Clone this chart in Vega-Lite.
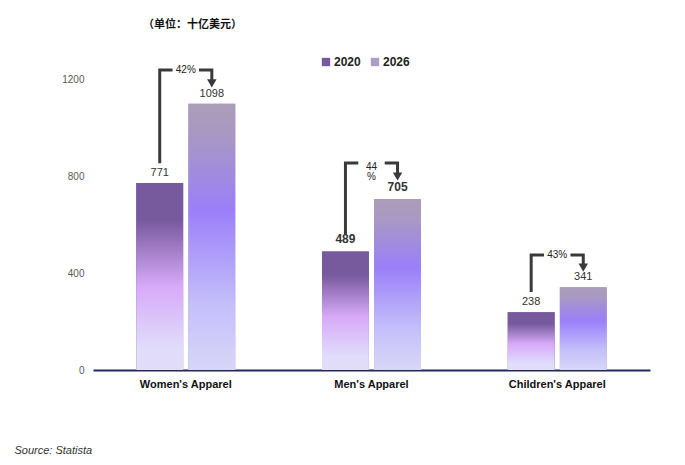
{
  "$schema": "https://vega.github.io/schema/vega-lite/v6.json",
  "autosize": "none",
  "width": 557,
  "height": 291,
  "padding": {"left": 93, "top": 79, "right": 35, "bottom": 95},
  "background": "white",
  "config": {
    "view": {"stroke": null},
    "font": "Liberation Sans"
  },
  "title": {
    "text": "（单位：十亿美元）",
    "font": "Noto Sans CJK SC",
    "fontSize": 11,
    "fontWeight": "bold",
    "color": "#111111",
    "anchor": "start",
    "frame": "group",
    "dx": 50,
    "offset": 26
  },
  "datasets": {
    "bars": [
      {"category": "Women's Apparel", "year": "2020", "value": 771},
      {"category": "Women's Apparel", "year": "2026", "value": 1098},
      {"category": "Men's Apparel", "year": "2020", "value": 489},
      {"category": "Men's Apparel", "year": "2026", "value": 705},
      {"category": "Children's Apparel", "year": "2020", "value": 238},
      {"category": "Children's Apparel", "year": "2026", "value": 341}
    ],
    "brackets": [
      {"category": "Women's Apparel", "year": "2020", "y": 853, "ord": 1},
      {"category": "Women's Apparel", "year": "2020", "y": 1237, "ord": 2},
      {"category": "Women's Apparel", "year": "2026", "y": 1237, "ord": 3},
      {"category": "Women's Apparel", "year": "2026", "y": 1192, "ord": 4},
      {"category": "Men's Apparel", "year": "2020", "y": 557, "ord": 1},
      {"category": "Men's Apparel", "year": "2020", "y": 854, "ord": 2},
      {"category": "Men's Apparel", "year": "2026", "y": 854, "ord": 3},
      {"category": "Men's Apparel", "year": "2026", "y": 808, "ord": 4},
      {"category": "Children's Apparel", "year": "2020", "y": 322, "ord": 1},
      {"category": "Children's Apparel", "year": "2020", "y": 474, "ord": 2},
      {"category": "Children's Apparel", "year": "2026", "y": 474, "ord": 3},
      {"category": "Children's Apparel", "year": "2026", "y": 432, "ord": 4}
    ],
    "arrows": [
      {"category": "Women's Apparel", "year": "2026", "y": 1182},
      {"category": "Men's Apparel", "year": "2026", "y": 798},
      {"category": "Children's Apparel", "year": "2026", "y": 422}
    ],
    "pct": [
      {"category": "Women's Apparel", "y": 1237, "label": "42%"},
      {"category": "Men's Apparel", "y": 836, "label": "44\n%"},
      {"category": "Children's Apparel", "y": 474, "label": "43%"}
    ]
  },
  "layer": [
    {
      "data": {"name": "bars"},
      "mark": {"type": "bar"},
      "encoding": {
        "x": {
          "field": "category", "type": "nominal",
          "sort": ["Women's Apparel", "Men's Apparel", "Children's Apparel"],
          "scale": {"paddingInner": 0.467, "paddingOuter": 0.233},
          "axis": {
            "labelAngle": 0, "labelFontWeight": "bold", "labelFontSize": 11,
            "labelColor": "#111111", "labelPadding": 8,
            "domainColor": "#1f2a5c", "domainWidth": 2, "ticks": false,
            "title": "Source: Statista", "titleX": -79, "titleY": 80,
            "titleAnchor": "start", "titleAlign": "left", "titleBaseline": "middle",
            "titleFontStyle": "italic", "titleFontWeight": "normal",
            "titleFontSize": 11, "titleColor": "#333333"
          }
        },
        "xOffset": {"field": "year", "type": "nominal", "scale": {"paddingInner": 0.1}},
        "y": {
          "field": "value", "type": "quantitative",
          "scale": {"domain": [0, 1200], "nice": false},
          "axis": {
            "values": [0, 400, 800, 1200], "format": "d", "grid": false, "domain": false,
            "ticks": false, "labelColor": "#595959", "labelFontSize": 10,
            "labelPadding": 9, "title": null
          }
        },
        "color": {
          "field": "year", "type": "nominal",
          "scale": {"range": ["#775a9e", "#aa9cc8"]},
          "legend": {
            "orient": "none", "direction": "horizontal",
            "legendX": 227, "legendY": -23, "title": null,
            "symbolType": "square", "symbolSize": 70, "symbolOpacity": 1,
            "labelFontWeight": "bold", "labelFontSize": 12, "labelColor": "#222222",
            "columnPadding": 8, "labelOffset": 2
          }
        }
      }
    },
    {
      "data": {"name": "bars"},
      "transform": [{"filter": "datum.year === '2020'"}],
      "mark": {
        "type": "bar",
        "color": {
          "gradient": "linear", "x1": 0, "y1": 0, "x2": 0, "y2": 1,
          "stops": [
            {"offset": 0, "color": "#775a9e"},
            {"offset": 0.2, "color": "#775a9e"},
            {"offset": 0.55, "color": "#d7a9f8"},
            {"offset": 0.88, "color": "#e0dcfb"},
            {"offset": 1, "color": "#e2def8"}
          ]
        }
      },
      "encoding": {
        "x": {"field": "category", "type": "nominal", "sort": ["Women's Apparel", "Men's Apparel", "Children's Apparel"]},
        "xOffset": {"field": "year", "type": "nominal"},
        "y": {"field": "value", "type": "quantitative"}
      }
    },
    {
      "data": {"name": "bars"},
      "transform": [{"filter": "datum.year === '2026'"}],
      "mark": {
        "type": "bar",
        "color": {
          "gradient": "linear", "x1": 0, "y1": 0, "x2": 0, "y2": 1,
          "stops": [
            {"offset": 0, "color": "#ac9db8"},
            {"offset": 0.12, "color": "#a898c4"},
            {"offset": 0.4, "color": "#9a7ff9"},
            {"offset": 0.75, "color": "#c4befa"},
            {"offset": 1, "color": "#d8d6f8"}
          ]
        }
      },
      "encoding": {
        "x": {"field": "category", "type": "nominal", "sort": ["Women's Apparel", "Men's Apparel", "Children's Apparel"]},
        "xOffset": {"field": "year", "type": "nominal"},
        "y": {"field": "value", "type": "quantitative"}
      }
    },
    {
      "data": {"name": "bars"},
      "transform": [{"filter": "datum.category !== \"Men's Apparel\""}],
      "mark": {"type": "text", "baseline": "bottom", "dy": -5, "fontSize": 11, "color": "#333333"},
      "encoding": {
        "x": {"field": "category", "type": "nominal", "sort": ["Women's Apparel", "Men's Apparel", "Children's Apparel"]},
        "xOffset": {"field": "year", "type": "nominal"},
        "y": {"field": "value", "type": "quantitative"},
        "text": {"field": "value", "type": "quantitative"}
      }
    },
    {
      "data": {"name": "bars"},
      "transform": [{"filter": "datum.category === \"Men's Apparel\""}],
      "mark": {"type": "text", "baseline": "bottom", "dy": -5, "fontSize": 12, "fontWeight": "bold", "color": "#333333"},
      "encoding": {
        "x": {"field": "category", "type": "nominal", "sort": ["Women's Apparel", "Men's Apparel", "Children's Apparel"]},
        "xOffset": {"field": "year", "type": "nominal"},
        "y": {"field": "value", "type": "quantitative"},
        "text": {"field": "value", "type": "quantitative"}
      }
    },
    {
      "data": {"name": "brackets"},
      "mark": {"type": "line", "color": "#3a3a3a", "strokeWidth": 3, "strokeJoin": "miter", "clip": false},
      "encoding": {
        "x": {"field": "category", "type": "nominal", "sort": ["Women's Apparel", "Men's Apparel", "Children's Apparel"]},
        "xOffset": {"field": "year", "type": "nominal"},
        "y": {"field": "y", "type": "quantitative"},
        "detail": {"field": "category"},
        "order": {"field": "ord", "type": "quantitative"}
      }
    },
    {
      "data": {"name": "arrows"},
      "mark": {"type": "point", "shape": "triangle-down", "filled": true, "color": "#3a3a3a", "opacity": 1, "size": 90},
      "encoding": {
        "x": {"field": "category", "type": "nominal", "sort": ["Women's Apparel", "Men's Apparel", "Children's Apparel"]},
        "xOffset": {"field": "year", "type": "nominal"},
        "y": {"field": "y", "type": "quantitative"}
      }
    },
    {
      "data": {"name": "pct"},
      "mark": {"type": "point", "shape": "square", "filled": true, "color": "white", "opacity": 1, "size": 700},
      "encoding": {
        "x": {"field": "category", "type": "nominal", "sort": ["Women's Apparel", "Men's Apparel", "Children's Apparel"]},
        "y": {"field": "y", "type": "quantitative"}
      }
    },
    {
      "data": {"name": "pct"},
      "mark": {"type": "text", "fontSize": 10, "color": "#222222", "baseline": "middle", "lineBreak": "\n", "lineHeight": 10},
      "encoding": {
        "x": {"field": "category", "type": "nominal", "sort": ["Women's Apparel", "Men's Apparel", "Children's Apparel"]},
        "y": {"field": "y", "type": "quantitative"},
        "text": {"field": "label", "type": "nominal"}
      }
    }
  ]
}
